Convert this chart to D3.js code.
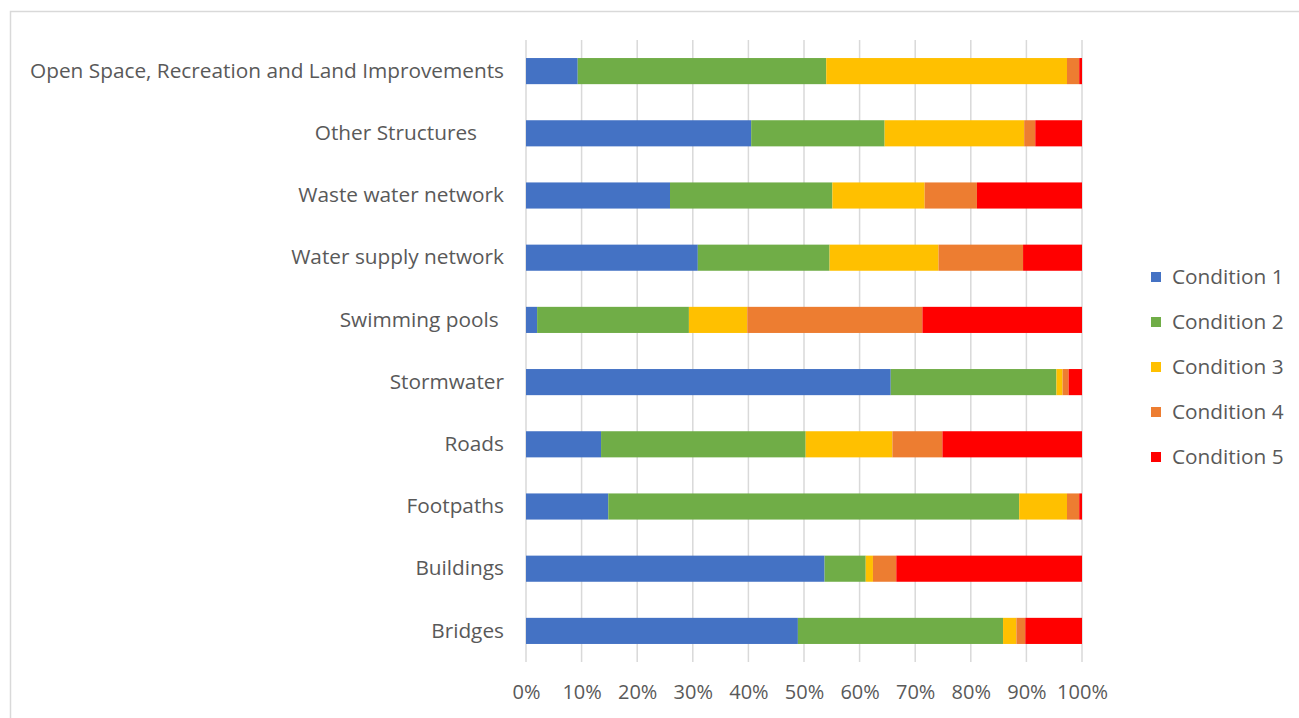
<!DOCTYPE html>
<html>
<head>
<meta charset="utf-8">
<script src="https://cdn.jsdelivr.net/npm/d3@7"></script>
<style>
  html, body { margin: 0; padding: 0; background: #ffffff; }
  svg { display: block; }
  text { font-family: "Open Sans", sans-serif; fill: #595959; }
</style>
</head>
<body>
<svg id="chart" width="1299" height="718"></svg>
<script>
// Asset categories, listed top to bottom
const categories = [
  "Open Space, Recreation and Land Improvements",
  "Other Structures     ",
  "Waste water network",
  "Water supply network",
  "Swimming pools ",
  "Stormwater",
  "Roads",
  "Footpaths",
  "Buildings",
  "Bridges"
];

// Share of each asset class in each condition grade (%)
const condition1 = [9.3, 40.5, 25.9, 30.9, 2.0, 65.6, 13.5, 14.8, 53.7, 48.9];
const condition2 = [44.7, 24.0, 29.2, 23.7, 27.3, 29.8, 36.8, 73.9, 7.4, 36.9];
const condition3 = [43.3, 25.1, 16.6, 19.6, 10.5, 1.1, 15.6, 8.6, 1.3, 2.4];
const condition4 = [2.2, 2.0, 9.4, 15.2, 31.5, 1.1, 9.0, 2.2, 4.2, 1.6];
const condition5 = [0.5, 8.4, 18.9, 10.6, 28.7, 2.4, 25.1, 0.5, 33.4, 10.2];

const seriesNames = ["Condition 1", "Condition 2", "Condition 3", "Condition 4", "Condition 5"];
const seriesColors = ["#4472C4", "#70AD47", "#FFC000", "#ED7D31", "#FF0000"];
const tickValues = [0, 0.1, 0.2, 0.3, 0.4, 0.5, 0.6, 0.7, 0.8, 0.9, 1.0];

const seriesArrays = [condition1, condition2, condition3, condition4, condition5];
const rows = categories.map((c, i) => {
  const row = { category: c };
  const total = d3.sum(seriesArrays, s => s[i]);
  seriesNames.forEach((n, k) => { row[n] = seriesArrays[k][i] / total; });
  return row;
});

const svg = d3.select("#chart");

// chart frame
svg.append("path")
  .attr("d", "M10.5,718 L10.5,11.5 L1299,11.5")
  .attr("fill", "none")
  .attr("stroke", "#d9d9d9")
  .attr("stroke-width", 1.5);

const plot = { left: 526, right: 1082, top: 40, bottom: 662 };

const x = d3.scaleLinear().domain([0, 1]).range([plot.left, plot.right]);
const y = d3.scaleBand().domain(categories)
  .range([plot.top, plot.bottom])
  .paddingInner(0.58).paddingOuter(0.29);

// vertical gridlines
svg.append("g")
  .selectAll("line")
  .data(tickValues)
  .join("line")
  .attr("x1", d => x(d)).attr("x2", d => x(d))
  .attr("y1", plot.top).attr("y2", plot.bottom)
  .attr("stroke", "#d9d9d9")
  .attr("stroke-width", 1.5);

// stacked bars
const stacked = d3.stack().keys(seriesNames)(rows);
svg.append("g")
  .selectAll("g")
  .data(stacked)
  .join("g")
  .attr("fill", (d, i) => seriesColors[i])
  .selectAll("rect")
  .data(d => d)
  .join("rect")
  .attr("x", d => x(d[0]))
  .attr("width", d => Math.max(0, x(d[1]) - x(d[0])))
  .attr("y", d => y(d.data.category))
  .attr("height", y.bandwidth());

// x axis labels
const xAxis = d3.axisBottom(x)
  .tickValues(tickValues)
  .tickFormat(d3.format(".0%"))
  .tickSize(0)
  .tickPadding(0);
const gx = svg.append("g")
  .attr("transform", `translate(0, ${plot.bottom})`)
  .call(xAxis);
gx.select(".domain").remove();
gx.selectAll("text")
  .attr("y", 30)
  .attr("dy", "0.35em")
  .style("font-family", "'Open Sans', sans-serif")
  .style("font-size", "20px")
  .attr("fill", "#595959");

// category labels
const yAxis = d3.axisLeft(y).tickSize(0).tickPadding(0);
const gy = svg.append("g")
  .attr("transform", `translate(${plot.left - 22}, 0)`)
  .call(yAxis);
gy.select(".domain").remove();
gy.selectAll("text")
  .style("font-family", "'Open Sans', sans-serif")
  .style("font-size", "20.8px")
  .style("white-space", "pre")
  .attr("fill", "#595959");

// legend
const legend = svg.append("g").attr("transform", "translate(1151, 277)");
const items = legend.selectAll("g")
  .data(seriesNames)
  .join("g")
  .attr("transform", (d, i) => `translate(0, ${i * 45})`);
items.append("rect")
  .attr("x", 0).attr("y", -5)
  .attr("width", 10).attr("height", 10)
  .attr("fill", (d, i) => seriesColors[i]);
items.append("text")
  .attr("x", 21).attr("y", 0).attr("dy", "0.35em")
  .style("font-size", "20.8px")
  .text(d => d);
</script>
</body>
</html>
